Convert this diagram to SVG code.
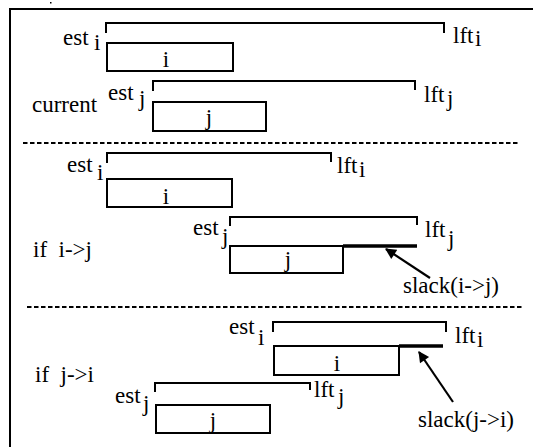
<svg xmlns="http://www.w3.org/2000/svg" width="533" height="447" viewBox="0 0 533 447">
<style>
text{font-size:23px;fill:#000}
.c{text-anchor:middle}
.ln{fill:none;stroke:#000;stroke-width:2}
.box{fill:#fff;stroke:#000;stroke-width:2}
.dash{stroke:#000;stroke-width:2;stroke-dasharray:4.5 2.5}
.slack{stroke:#000;stroke-width:3.5}
.arr{stroke:#000;stroke-width:2.2;marker-end:url(#ah)}
</style>
<defs>
<marker id="ah" viewBox="0 0 10 10" refX="9" refY="5" markerWidth="8" markerHeight="5" orient="auto" markerUnits="strokeWidth">
<path d="M0,0 L10,5 L0,10 z" fill="#000"/>
</marker>
</defs>
<rect width="533" height="447" fill="#fff"/>
<g id="frame">
<path class="ln" d="M10,447 V9 H533"/>
<rect x="50" y="2" width="1.5" height="1.5" fill="#000"/>
<line class="dash" x1="23" y1="143" x2="520" y2="143"/>
<line class="dash" x1="27" y1="307" x2="523" y2="307"/>
</g>
<g font-family="'Liberation Serif', 'DejaVu Serif', serif">
<g id="current">
<text x="32" y="112">current</text>
<g id="cur-i">
<path class="ln" d="M106,33 V23 H444 V33"/>
<text x="63" y="45">est</text><text x="94" y="50">i</text>
<text x="453" y="43">lft</text><text x="475" y="46">i</text>
<rect class="box" x="107" y="43" width="126" height="28"/>
<text class="c" x="166" y="67">i</text>
</g>
<g id="cur-j">
<path class="ln" d="M153,91 V81 H415 V90"/>
<text x="108" y="100">est</text><text x="139" y="106">j</text>
<text x="424" y="102">lft</text><text x="447" y="106">j</text>
<rect class="box" x="153" y="102" width="113" height="29"/>
<text class="c" x="209" y="125">j</text>
</g>
</g>
<g id="ij">
<text x="33" y="257" xml:space="preserve">if  i-&gt;j</text>
<g id="ij-i">
<path class="ln" d="M107,163 V153 H331 V162"/>
<text x="67" y="172">est</text><text x="97" y="180">i</text>
<text x="337" y="173">lft</text><text x="359" y="177">i</text>
<rect class="box" x="107" y="179" width="125" height="28"/>
<text class="c" x="166" y="204">i</text>
</g>
<g id="ij-j">
<path class="ln" d="M230,226 V217 H417 V225"/>
<text x="193" y="235">est</text><text x="222" y="244">j</text>
<text x="425" y="237">lft</text><text x="448" y="246">j</text>
<rect class="box" x="230" y="246" width="113" height="27"/>
<text class="c" x="288" y="267">j</text>
</g>
<text x="403" y="293">slack(i-&gt;j)</text>
</g>
<g id="ji">
<text x="35" y="382" xml:space="preserve">if  j-&gt;i</text>
<g id="ji-i">
<path class="ln" d="M273,332 V322 H446 V332"/>
<text x="229" y="334">est</text><text x="258" y="345">i</text>
<text x="455" y="343">lft</text><text x="477" y="347">i</text>
<rect class="box" x="274" y="346" width="125" height="29"/>
<text class="c" x="337" y="371">i</text>
</g>
<g id="ji-j">
<path class="ln" d="M155,392 V383 H310 V390"/>
<text x="115" y="403">est</text><text x="143" y="411">j</text>
<text x="314" y="397">lft</text><text x="338" y="404">j</text>
<rect class="box" x="156" y="405" width="114" height="28"/>
<text class="c" x="213" y="428">j</text>
</g>
<text x="418" y="427">slack(j-&gt;i)</text>
</g>
</g>
<g id="connectors">
<line class="slack" x1="343" y1="246" x2="417" y2="246"/>
<line class="arr" x1="430" y1="278" x2="386" y2="249"/>
<line class="slack" x1="399" y1="346" x2="443" y2="346"/>
<line class="arr" x1="453" y1="402" x2="419" y2="352"/>
</g>
</svg>
